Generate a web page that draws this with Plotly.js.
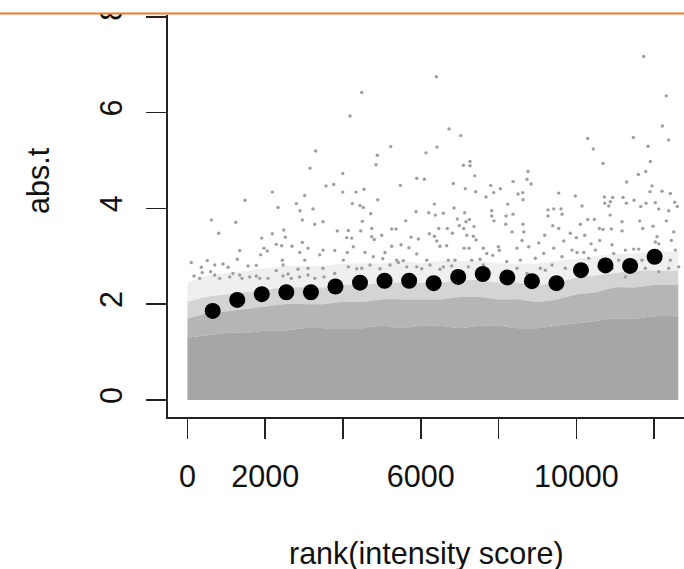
<!DOCTYPE html>
<html>
<head>
<meta charset="utf-8">
<script src="https://cdn.plot.ly/plotly-3.0.1.min.js"></script>
<style>html,body{margin:0;padding:0;background:#fff;}#chart{width:684px;height:569px;}</style>
</head>
<body>
<div id="chart"></div>
<script>
// Binned means (black dots): rank position and mean abs.t
const binRank = [650, 1281, 1912, 2543, 3175, 3806, 4437, 5068, 5700, 6331, 6962, 7593, 8225, 8856, 9487, 10118, 10749, 11381, 12012];
const binMean = [1.86, 2.09, 2.21, 2.25, 2.25, 2.37, 2.45, 2.49, 2.49, 2.44, 2.57, 2.63, 2.56, 2.48, 2.44, 2.71, 2.81, 2.80, 2.99];

// Dense cloud of points, read as density envelopes (rank -> abs.t)
const envRank = [0, 500, 1000, 1500, 2000, 2500, 3000, 3500, 4000, 4500, 5000, 5500, 6000, 6500, 7000, 7500, 8000, 8500, 9000, 9500, 10000, 10500, 11000, 11500, 12000, 12620];
const coreTop = [1.3, 1.35, 1.4, 1.4, 1.45, 1.45, 1.5, 1.5, 1.5, 1.5, 1.55, 1.5, 1.55, 1.55, 1.5, 1.55, 1.55, 1.5, 1.5, 1.55, 1.6, 1.65, 1.7, 1.7, 1.75, 1.75];
const denseTop = [1.7, 1.8, 1.85, 1.9, 1.95, 2.0, 2.0, 2.0, 2.05, 2.05, 2.1, 2.1, 2.1, 2.1, 2.15, 2.15, 2.1, 2.1, 2.05, 2.1, 2.2, 2.25, 2.35, 2.35, 2.4, 2.4];
const sparseTop = [2.05, 2.15, 2.2, 2.25, 2.3, 2.35, 2.35, 2.35, 2.4, 2.4, 2.45, 2.45, 2.45, 2.45, 2.5, 2.5, 2.45, 2.45, 2.4, 2.45, 2.55, 2.6, 2.65, 2.7, 2.7, 2.7];
const fringeTop = [2.45, 2.6, 2.65, 2.7, 2.75, 2.8, 2.8, 2.8, 2.85, 2.85, 2.85, 2.9, 2.85, 2.9, 2.9, 2.9, 2.85, 2.85, 2.85, 2.9, 2.95, 3.0, 3.05, 3.05, 3.1, 3.1];

// Individually visible outlying points (rank, abs.t)
const outRank = [3298,3152,3563,3761,2183,3016,1481,2800,2329,2895,3229,614,1242,2954,3273,3486,805,2476,2183,3854,1910,2517,2286,2424,2954,2689,1969,1345,3486,3787,2054,1884,3101,2887,3401,2440,3016,1283,512,100,1558,1771,1044,357,702,915,3101,3486,2458,2844,
6400,4481,4181,6726,7027,5227,6417,6134,4883,4849,7094,7266,7266,3993,7387,5895,6091,5474,6837,3993,4335,4541,7145,7412,7798,7875,8045,7677,4893,4240,4438,4523,6348,6854,5877,6204,6374,6580,7129,7824,7824,8235,8191,4713,4497,4456,5613,6940,7163,7248,7883,8184,4137,4738,5252,5363,6461,6683,7104,7369,6811,6991,6219,6348,7181,7351,7421,4738,4995,4096,4224,5749,5937,6410,4805,4266,5252,5492,5697,6494,6666,7112,7240,7608,7994,8020,4111,4566,5080,5895,7695,7849,4008,4780,5021,5381,5551,6153,6708,6880,7309,7523,5895,6237,6580,4481,5209,
11732,12313,12210,12374,10292,11465,10436,11842,10685,11902,8757,8731,8834,8372,11593,11783,11294,11945,8500,8621,8628,9546,9973,10719,10935,11200,11894,12202,12416,11791,12030,11482,11285,10729,10873,10145,12529,9271,9418,9605,9631,9271,8372,10832,11655,12118,12374,12595,10867,11175,10292,10462,10102,11629,12313,11706,11971,9392,8628,10685,10899,11175,8346,8647,9546,10215,9186,9844,10590,12074,12503,8603,9032,9675,9999,10377,10601,10917,11474,11603,12030,12118,12442,12545,8474,8775,9161,9418,9889,10017,10190,10488,10961,11259,8559,8945,9631,10318,11089,11688,12416,9073,9374,10575,12374,
170,316,383,599,702,830,1088,1172,1345,1404,1602,1771,1859,2072,2286,2458,2586,2671,2887,3101,3273,3512,3787,
4137,4352,4695,4952,5423,5638,6024,6494,6795,7222,7608,8209,
8474,8731,9202,9716,10061,10917,11259,11773,12118,12632];
const outVal = [5.20,4.84,4.47,4.50,4.34,4.27,4.17,4.10,4.02,3.95,3.99,3.76,3.71,3.76,3.67,3.72,3.48,3.55,3.47,3.53,3.38,3.40,3.25,3.22,3.29,3.21,3.17,3.12,3.13,3.12,3.11,3.03,3.17,3.08,3.03,2.92,2.92,2.94,2.91,2.87,2.80,2.81,2.77,2.77,2.82,2.84,2.75,2.75,2.82,2.73,
6.75,6.42,5.93,5.66,5.52,5.29,5.28,5.16,5.11,4.91,4.90,4.98,4.89,4.73,4.68,4.63,4.61,4.48,4.52,4.34,4.34,4.40,4.41,4.35,4.48,4.33,4.41,4.24,4.18,4.10,4.06,4.02,4.09,4.01,3.93,3.91,3.86,3.90,3.91,3.95,3.84,4.09,3.84,3.89,3.73,3.53,3.74,3.78,3.72,3.77,3.74,3.67,3.54,3.58,3.57,3.57,3.58,3.58,3.58,3.62,3.48,3.64,3.47,3.42,3.44,3.42,3.34,3.41,3.44,3.39,3.38,3.40,3.36,3.32,3.35,3.20,3.21,3.24,3.18,3.21,3.22,3.17,3.17,3.17,3.20,3.12,3.08,3.08,3.08,3.05,3.06,3.02,2.92,2.99,2.95,2.92,2.91,2.92,2.92,2.92,2.92,2.94,2.78,2.82,2.78,2.75,2.82,
7.17,6.35,5.72,5.43,5.46,5.48,5.24,5.30,4.94,4.98,4.77,4.61,4.51,4.56,4.71,4.77,4.55,4.47,4.30,4.33,4.18,4.32,4.26,4.24,4.23,4.23,4.35,4.36,4.31,4.11,4.12,4.17,4.11,4.11,4.14,4.05,4.13,3.97,3.99,3.99,3.88,3.84,3.88,4.05,4.04,3.99,3.95,4.04,3.86,3.72,3.77,3.77,3.67,3.74,3.74,3.58,3.63,3.64,3.67,3.56,3.57,3.53,3.51,3.51,3.58,3.44,3.44,3.48,3.58,3.41,3.51,3.33,3.28,3.32,3.39,3.26,3.33,3.24,3.15,3.15,3.30,3.26,3.33,3.13,3.17,3.20,3.06,3.17,3.13,3.08,3.08,3.13,3.06,3.13,2.92,2.96,2.99,2.96,2.92,2.92,2.92,2.75,2.82,2.78,2.75,
2.59,2.54,2.66,2.68,2.61,2.54,2.57,2.64,2.61,2.54,2.57,2.59,2.54,2.54,2.70,2.59,2.63,2.54,2.57,2.61,2.54,2.57,2.64,
2.78,2.74,2.82,2.74,2.87,2.78,2.74,2.73,2.80,2.78,2.82,2.89,
2.75,2.64,2.71,2.75,2.64,2.75,2.57,2.75,2.68,2.78];

const xTickVals = [0, 2000, 4000, 6000, 8000, 10000, 12000];
const xTickText = ['0', '2000', '', '6000', '', '10000', ''];
const yTickVals = [0, 2, 4, 6, 8];
const yTickText = ['0', '2', '4', '6', '8'];

const grey = '#9e9e9e';
const band = (y, fill, col) => ({x: envRank, y: y, type: 'scatter', mode: 'lines', line: {width: 0, shape: 'spline', smoothing: 0.6}, fill: fill, fillcolor: col, hoverinfo: 'skip'});
const traces = [
  band(coreTop, 'tozeroy', '#a6a6a6'),
  band(denseTop, 'tonexty', 'rgba(160,160,160,0.78)'),
  band(sparseTop, 'tonexty', 'rgba(160,160,160,0.45)'),
  band(fringeTop, 'tonexty', 'rgba(160,160,160,0.17)'),
  {x: outRank, y: outVal, type: 'scatter', mode: 'markers', marker: {size: 3.4, color: grey}, hoverinfo: 'skip'},
  {x: binRank, y: binMean, type: 'scatter', mode: 'markers', marker: {size: 16, color: '#000'}}
];

const axFont = {family: 'Liberation Sans, Arial, Helvetica, sans-serif', size: 30.5, color: '#111'};
const layout = {
  width: 684, height: 569,
  margin: {l: 168, r: 0, t: 15, b: 152},
  paper_bgcolor: '#fff', plot_bgcolor: '#fff',
  showlegend: false,
  font: axFont,
  xaxis: {
    range: [-499, 12767], tickmode: 'array', tickvals: xTickVals, ticktext: xTickText,
    showgrid: false, zeroline: false, showline: true, linecolor: '#222', linewidth: 1.6,
    ticks: 'outside', ticklen: 20, tickwidth: 1.6, tickcolor: '#222', tickfont: axFont,
    ticklabelstandoff: 12
  },
  yaxis: {
    range: [-0.355, 8.038], tickmode: 'array', tickvals: yTickVals, ticktext: yTickText,
    showgrid: false, zeroline: false, showline: true, linecolor: '#222', linewidth: 1.6,
    ticks: 'outside', ticklen: 20, tickwidth: 1.6, tickcolor: '#222', tickfont: axFont,
    tickangle: -90, ticklabelstandoff: 12
  },
  annotations: [
    {text: 'rank(intensity score)', xref: 'paper', yref: 'paper', x: 0.5, y: 0, yanchor: 'middle', xanchor: 'center', yshift: -136, showarrow: false, font: axFont},
    {text: 'abs.t', xref: 'paper', yref: 'paper', x: -0.252, y: 0.5896, xanchor: 'center', yanchor: 'middle', textangle: -90, showarrow: false, font: axFont}
  ],
  shapes: [
    {type: 'rect', xref: 'paper', yref: 'paper', x0: -0.4, x1: 1.01, y0: 1.004, y1: 1.05, fillcolor: '#fff', line: {width: 0}, layer: 'above'},
    {type: 'line', xref: 'paper', yref: 'paper', x0: -0.4, x1: 1.01, y0: 1.004, y1: 1.004, line: {color: '#f37b22', width: 2}, layer: 'above'}
  ]
};
Plotly.newPlot('chart', traces, layout, {staticPlot: true, displayModeBar: false});
</script>
</body>
</html>
